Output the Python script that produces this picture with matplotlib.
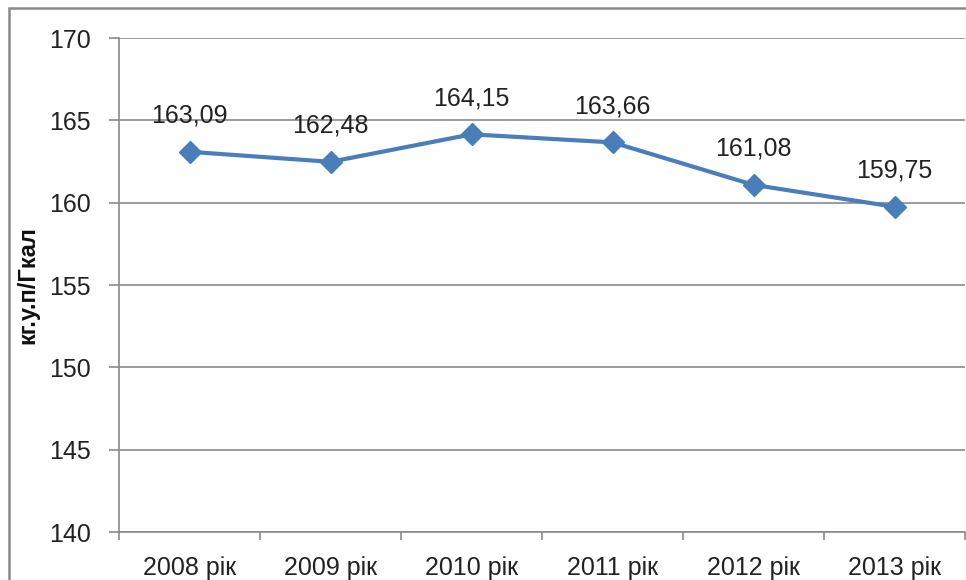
import numpy as np
import matplotlib.pyplot as plt
from matplotlib.patches import Rectangle

years = ["2008 рік", "2009 рік", "2010 рік", "2011 рік", "2012 рік", "2013 рік"]
values = [163.09, 162.48, 164.15, 163.66, 161.08, 159.75]
labels = ["163,09", "162,48", "164,15", "163,66", "161,08", "159,75"]
yticks = [140, 145, 150, 155, 160, 165, 170]

plt.rcParams['font.family'] = ['Liberation Sans Narrow', 'Liberation Sans', 'DejaVu Sans']

fig = plt.figure(figsize=(9.66, 5.8), dpi=100)
ax = fig.add_axes([119/966, 1-532/580, 846/966, (532-38)/580])

# outer chart frame (cropped on right and bottom)
fig.patches.append(Rectangle((9/966, -0.1), 1.2, 1-8/580+0.1, transform=fig.transFigure,
                             fill=False, edgecolor="#8a8a8a", linewidth=1.8))

x = np.arange(len(years))
line_col = "#4a7ebb"
ax.plot(x, values, color=line_col, linewidth=3, marker="D", markersize=11,
        markerfacecolor=line_col, markeredgecolor=line_col, zorder=3)

for xi, v, lab in zip(x, values, labels):
    ax.annotate(lab, (xi, v), xytext=(0, 26), textcoords="offset points",
                ha="center", va="center", fontsize=18, color="#222222")

ax.set_xlim(-0.5, len(years) - 0.5)
ax.set_ylim(140, 170)
ax.set_yticks(yticks)
ax.set_xticks(x)
ax.set_xticklabels(years)
ax.set_xticks(np.arange(-0.5, len(years)), minor=True)
ax.tick_params(axis="x", which="major", length=0, pad=17, labelsize=18, labelcolor="#222222")
ax.tick_params(axis="x", which="minor", length=6, color="#8a8a8a", width=1.2, direction="out")
ax.tick_params(axis="y", length=7, color="#8a8a8a", width=1.2, pad=13, labelsize=18, labelcolor="#222222")

ax.yaxis.grid(True, color="#8a8a8a", linewidth=1.2)
ax.set_axisbelow(True)
for s in ["top", "right"]:
    ax.spines[s].set_visible(False)
for s in ["left", "bottom"]:
    ax.spines[s].set_color("#8a8a8a")
    ax.spines[s].set_linewidth(1.2)

ax.set_ylabel("кг.у.п/Гкал", fontsize=17, fontweight="bold", color="#111111",
              family=["Liberation Sans", "DejaVu Sans"])
ax.yaxis.set_label_coords(-80/846, 0.5)

fig.savefig("out.png", dpi=100)
